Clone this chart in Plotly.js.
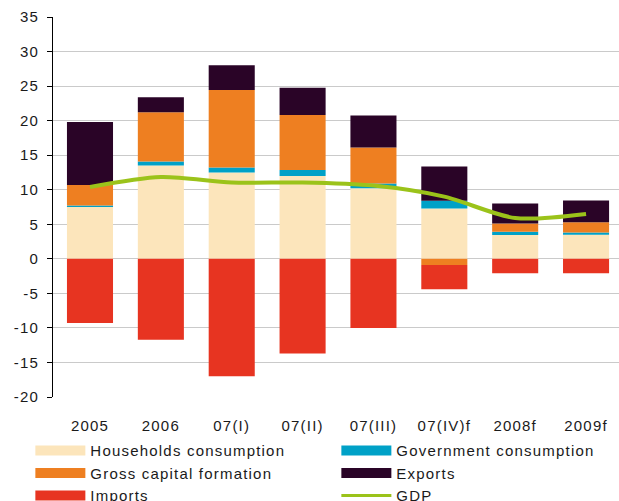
<!DOCTYPE html>
<html>
<head>
<meta charset="utf-8">
<script src="https://cdn.plot.ly/plotly-3.0.1.min.js"></script>
<style>
html,body{margin:0;padding:0;background:#fff;}
#chart text{letter-spacing:1.2px;}
</style>
</head>
<body>
<div id="chart" style="width:619px;height:501px;"></div>
<script>
var categories = ["2005", "2006", "07(I)", "07(II)", "07(III)", "07(IV)f", "2008f", "2009f"];
var households = [7.5, 13.5, 12.5, 12.0, 10.2, 7.3, 3.45, 3.5];
var government = [0.2, 0.6, 0.7, 0.85, 0.7, 1.1, 0.45, 0.3];
var grossCapital = [3.0, 7.1, 11.25, 7.95, 5.2, -0.9, 1.2, 1.5];
var exportsVals = [9.1, 2.2, 3.55, 3.95, 4.65, 4.95, 2.9, 3.15];
var importsVals = [-9.3, -11.7, -17.0, -13.7, -10.0, -3.5, -2.1, -2.1];
var gdp = [10.4, 11.85, 11.05, 11.05, 10.6, 9.0, 5.9, 6.5];
var yTicks = [-20, -15, -10, -5, 0, 5, 10, 15, 20, 25, 30, 35];
var yTickLabels = ["-20", "-15", "-10", "-5", "0", "5", "10", "15", "20", "25", "30", "35"];

var colors = {
  households: "#fce5bb",
  government: "#00a1c7",
  gross: "#ee7f21",
  exports: "#2a0427",
  imports: "#e73421",
  gdp: "#9bc31a"
};

function barTrace(name, vals, color) {
  return {type: "bar", name: name, x: categories, y: vals,
    marker: {color: color, line: {width: 0}}, showlegend: false, hoverinfo: "x+y+name"};
}
function legendTrace(name, color, w) {
  return {type: "scatter", mode: "lines", name: name, x: [null], y: [null],
    line: {color: color, width: w}, showlegend: true, hoverinfo: "skip"};
}

var traces = [
  barTrace("Households consumption", households, colors.households),
  barTrace("Government consumption", government, colors.government),
  barTrace("Gross capital formation", grossCapital, colors.gross),
  barTrace("Exports", exportsVals, colors.exports),
  barTrace("Imports", importsVals, colors.imports),
  {type: "scatter", mode: "lines", name: "GDP", x: categories, y: gdp,
    line: {color: colors.gdp, width: 4, shape: "spline", smoothing: 0.8}, showlegend: false},
  legendTrace("Households consumption", colors.households, 10),
  legendTrace("Government consumption", colors.government, 10),
  legendTrace("Gross capital formation", colors.gross, 10),
  legendTrace("Exports", colors.exports, 10),
  legendTrace("Imports", colors.imports, 10),
  legendTrace("GDP", colors.gdp, 3)
];

var xr = [-0.522, 7.465];
var layout = {
  width: 619, height: 501,
  margin: {l: 53, r: 0, t: 17, b: 104, autoexpand: false},
  paper_bgcolor: "#fff", plot_bgcolor: "#fff",
  font: {family: "Arial, Liberation Sans, sans-serif", size: 15, color: "#1a1a1a"},
  barmode: "relative",
  bargap: 0.35,
  xaxis: {type: "category", categoryorder: "array", categoryarray: categories,
    range: xr, showline: false, showgrid: false, ticks: "", zeroline: false,
    ticklabelstandoff: 18, tickfont: {size: 15}},
  xaxis2: {type: "linear", overlaying: "x", anchor: "free", position: 20 / 55,
    range: xr, tickvals: [0.5, 1.5, 2.5, 3.5, 4.5, 5.5, 6.5],
    ticks: "outside", ticklen: 5, tickcolor: "#000", tickwidth: 1,
    showline: true, linecolor: "#000", linewidth: 1,
    showgrid: false, zeroline: false, showticklabels: false},
  yaxis: {range: [-20, 35], tickvals: yTicks, ticktext: yTickLabels,
    showline: true, linecolor: "#000", linewidth: 1,
    ticks: "outside", ticklen: 5, tickcolor: "#000", showgrid: true, gridcolor: "#cacaca",
    gridwidth: 1, zeroline: false, ticklabelstandoff: 5, tickfont: {size: 15}},
  legend: {orientation: "h",
    x: -0.04, y: -0.098, xanchor: "left", yanchor: "top",
    entrywidth: 241, entrywidthmode: "pixels", itemwidth: 50,
    font: {size: 15}, bgcolor: "rgba(0,0,0,0)", tracegroupgap: 0, traceorder: "normal"},
  showlegend: true
};

Plotly.newPlot("chart", traces, layout, {displayModeBar: false, staticPlot: true});
</script>
</body>
</html>
